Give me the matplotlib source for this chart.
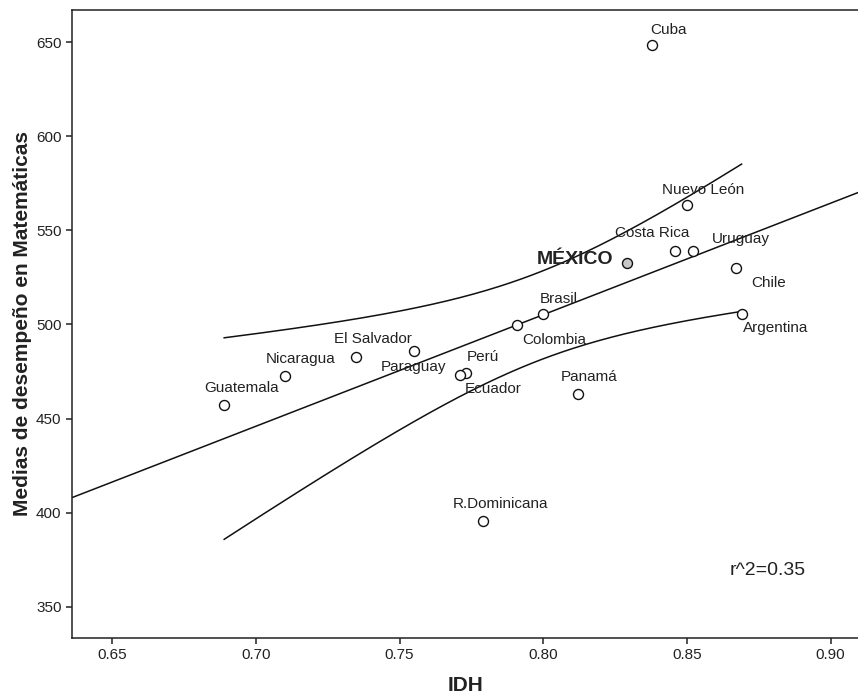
import numpy as np
import matplotlib.pyplot as plt

plt.rcParams['font.family'] = ['Liberation Sans', 'DejaVu Sans']

paises = ["Guatemala", "Nicaragua", "El Salvador", "Paraguay", "Perú", "Ecuador",
          "Colombia", "Brasil", "R.Dominicana", "Panamá", "MÉXICO", "Costa Rica",
          "Nuevo León", "Uruguay", "Chile", "Argentina", "Cuba"]
idh = [0.689, 0.710, 0.735, 0.755, 0.773, 0.771,
       0.791, 0.800, 0.779, 0.812, 0.829, 0.846,
       0.850, 0.852, 0.867, 0.869, 0.838]
mate = [457.2, 472.8, 482.9, 485.9, 474.4, 473.1,
        499.7, 505.4, 395.8, 463.0, 532.4, 539.0,
        563.4, 539.0, 529.8, 505.7, 648.3]

# label offsets in pixels (dx, dy) and horizontal alignment
etiquetas = {
    "Guatemala": (17, 17, "center"), "Nicaragua": (16, 17, "center"),
    "El Salvador": (17, 18, "center"), "Paraguay": (0, -16, "center"),
    "Perú": (1, 16, "left"), "Ecuador": (5, -14, "left"),
    "Colombia": (5, -15, "left"), "Brasil": (-3, 15, "left"),
    "R.Dominicana": (18, 17, "center"), "Panamá": (11, 17, "center"),
    "MÉXICO": (-13, 4, "right"), "Costa Rica": (-23, 18, "center"),
    "Nuevo León": (16, 15, "center"), "Uruguay": (19, 12, "left"),
    "Chile": (15, -15, "left"), "Argentina": (1, -14, "left"),
    "Cuba": (-2, 15, "left"),
}

x = np.array(idh)
y = np.array(mate)
n = len(x)
b1, b0 = np.polyfit(x, y, 1)
resid = y - (b0 + b1 * x)
s = np.sqrt(np.sum(resid ** 2) / (n - 2))
sxx = np.sum((x - x.mean()) ** 2)
t95 = 2.131  # t(0.975, 15 gl)

fig = plt.figure(figsize=(8.58, 6.95), dpi=100)
ax = fig.add_axes([72 / 858, 1 - 638 / 695, 1 - 72 / 858 + 0.002, (638 - 10) / 695])

# recta de regresion sobre todo el eje
xl = np.array([0.63606, 0.9101])
ax.plot(xl, b0 + b1 * xl, color='#111111', lw=1.1, zorder=2)

# intervalo de confianza de la media
xc = np.linspace(x.min(), x.max(), 200)
yc = b0 + b1 * xc
h = t95 * s * np.sqrt(1 / n + (xc - x.mean()) ** 2 / sxx)
ax.plot(xc, yc + h, color='#111111', lw=1.1, zorder=2)
ax.plot(xc, yc - h, color='#111111', lw=1.1, zorder=2)

for p, xi, yi in zip(paises, idh, mate):
    fc = '#c8c8c8' if p == "MÉXICO" else 'white'
    ax.plot(xi, yi, 'o', ms=7.2, mfc=fc, mec='#111111', mew=1.0, zorder=3)
    dx, dy, ha = etiquetas[p]
    if p == "MÉXICO":
        ax.annotate(p, (xi, yi), xytext=(dx, dy), textcoords='offset pixels',
                    ha=ha, va='center', fontsize=14, fontweight='bold', color='#222222')
    else:
        ax.annotate(p, (xi, yi), xytext=(dx, dy), textcoords='offset pixels',
                    ha=ha, va='center', fontsize=11, color='#222222')

ax.text(0.878, 369.6, "r^2=0.35", ha='center', va='center', fontsize=14, color='#222222')

ax.set_xlim(0.63606, 0.9101)
ax.set_ylim(333.5, 667)
ax.set_xticks([0.65, 0.70, 0.75, 0.80, 0.85, 0.90])
ax.set_xticklabels(["0.65", "0.70", "0.75", "0.80", "0.85", "0.90"])
ax.set_yticks([350, 400, 450, 500, 550, 600, 650])
ax.tick_params(direction='out', length=4, width=1.1, labelsize=11, labelcolor='#222222', color='#222222')
ax.spines['right'].set_visible(False)
for sp in ['left', 'top', 'bottom']:
    ax.spines[sp].set_linewidth(1.1)
    ax.spines[sp].set_color('#222222')

ax.set_xlabel("IDH", fontsize=15, fontweight='bold', color='#222222', labelpad=10)
ax.set_ylabel("Medias de desempeño en Matemáticas", fontsize=15, fontweight='bold',
              color='#222222', labelpad=3)

fig.savefig("out.png", dpi=100)
